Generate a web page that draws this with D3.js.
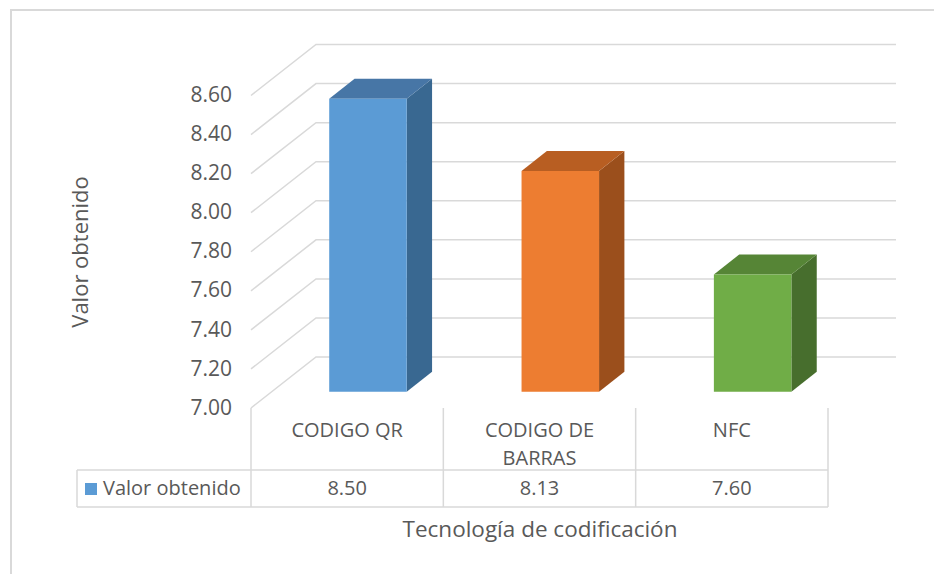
<!DOCTYPE html>
<html>
<head>
<meta charset="utf-8">
<script src="https://cdn.jsdelivr.net/npm/d3@7"></script>
<style>
  body { margin: 0; background: #fff; }
  text { font-family: "Open Sans", Lato, sans-serif; fill: #595959; }
</style>
</head>
<body>
<div class="chart3d"></div>
<script>
const categories = ["CODIGO QR", "CODIGO DE BARRAS", "NFC"];
const categoryLines = [["CODIGO QR"], ["CODIGO DE", "BARRAS"], ["NFC"]];
const values = [8.50, 8.13, 7.60];
const yTicks = [7.0, 7.2, 7.4, 7.6, 7.8, 8.0, 8.2, 8.4, 8.6];
const seriesName = "Valor obtenido";
const yTitle = "Valor obtenido";
const xTitle = "Tecnología de codificación";

const faceColors = [
    { front: "#5B9BD5", top: "#4776A6", side: "#396891" },
    { front: "#ED7D31", top: "#B85E22", side: "#9B4F1C" },
    { front: "#70AD47", top: "#568536", side: "#476E2D" },
];

const width = 934;
const height = 574;
const depth = { dx: 65, dy: -51 };   // full floor depth, oblique projection
const barZ = [0.32, 0.71];           // front / back of the columns along depth

const svg = d3.select(".chart3d")
    .append("svg")
    .attr("width", width)
    .attr("height", height);

// chart frame
svg.append("rect")
    .attr("x", 11).attr("y", 10)
    .attr("width", width).attr("height", height)
    .attr("fill", "none")
    .attr("stroke", "#D9D9D9")
    .attr("stroke-width", 2);

const xScale = d3.scaleBand()
    .domain(categories)
    .range([251, 828])
    .paddingInner(0);

const yScale = d3.scaleLinear()
    .domain([7.0, 8.6])
    .range([408, 95.5]);

const proj = (x, v, z) => [x + z * depth.dx, yScale(v) + z * depth.dy];
const x0 = xScale.range()[0];
const x1 = xScale.range()[1];

// gridlines: side wall diagonal + back wall horizontal
const grid = svg.append("g")
    .attr("stroke", "#D9D9D9")
    .attr("stroke-width", 1.5)
    .attr("fill", "none");

grid.selectAll("path")
    .data(yTicks)
    .enter()
    .append("path")
    .attr("d", d => {
        const a = proj(x0, d, 0);
        const b = proj(x0, d, 1);
        const c = proj(x1 + 3, d, 1);
        return `M${a}L${b}L${c}`;
    });

// tick labels
svg.append("g")
    .selectAll("text")
    .data(yTicks)
    .enter()
    .append("text")
    .attr("x", 232)
    .attr("y", d => yScale(d) + 1)
    .attr("text-anchor", "end")
    .attr("dominant-baseline", "middle")
    .attr("font-size", 21)
    .text(d => d3.format(".2f")(d));

// columns
const barW = xScale.bandwidth() * 0.403;
const bars = svg.append("g")
    .selectAll("g")
    .data(values.map((v, i) => ({ v, cat: categories[i], i })))
    .enter()
    .append("g");

const barLeft = d => xScale(d.cat) + xScale.bandwidth() / 2 - barW / 2;

bars.append("path")   // side
    .attr("fill", d => faceColors[d.i].side)
    .attr("d", d => {
        const xr = barLeft(d) + barW;
        return "M" + [proj(xr, 7, barZ[0]), proj(xr, 7, barZ[1]), proj(xr, d.v, barZ[1]), proj(xr, d.v, barZ[0])].join("L") + "Z";
    });

bars.append("path")   // top
    .attr("fill", d => faceColors[d.i].top)
    .attr("d", d => {
        const xl = barLeft(d), xr = xl + barW;
        return "M" + [proj(xl, d.v, barZ[0]), proj(xl, d.v, barZ[1]), proj(xr, d.v, barZ[1]), proj(xr, d.v, barZ[0])].join("L") + "Z";
    });

bars.append("path")   // front
    .attr("fill", d => faceColors[d.i].front)
    .attr("d", d => {
        const xl = barLeft(d), xr = xl + barW;
        return "M" + [proj(xl, 7, barZ[0]), proj(xl, d.v, barZ[0]), proj(xr, d.v, barZ[0]), proj(xr, 7, barZ[0])].join("L") + "Z";
    });

// data table
const tableTop = 470, tableBottom = 507, tableLeft = 77;
const table = svg.append("g")
    .attr("stroke", "#D9D9D9")
    .attr("stroke-width", 1.5);

[tableTop, tableBottom].forEach(y => {
    table.append("line")
        .attr("x1", tableLeft).attr("x2", x1)
        .attr("y1", y).attr("y2", y);
});
table.append("line")
    .attr("x1", tableLeft).attr("x2", tableLeft)
    .attr("y1", tableTop).attr("y2", tableBottom);

const colEdges = categories.map(c => xScale(c)).concat([x1]);
table.selectAll(".col")
    .data(colEdges)
    .enter()
    .append("line")
    .attr("class", "col")
    .attr("x1", d => d).attr("x2", d => d)
    .attr("y1", yScale(7)).attr("y2", tableBottom);

// category labels
svg.append("g")
    .selectAll("text")
    .data(categoryLines)
    .enter()
    .append("text")
    .attr("text-anchor", "middle")
    .attr("font-size", 20)
    .each(function (lines, i) {
        d3.select(this).selectAll("tspan")
            .data(lines)
            .enter()
            .append("tspan")
            .attr("x", xScale(categories[i]) + xScale.bandwidth() / 2)
            .attr("y", (d, j) => 437 + j * 28)
            .text(d => d);
    });

// values row
svg.append("g")
    .selectAll("text")
    .data(values)
    .enter()
    .append("text")
    .attr("x", (d, i) => xScale(categories[i]) + xScale.bandwidth() / 2)
    .attr("y", 495)
    .attr("text-anchor", "middle")
    .attr("font-size", 20)
    .text(d => d3.format(".2f")(d));

svg.append("rect")
    .attr("x", 85).attr("y", 483)
    .attr("width", 12).attr("height", 12)
    .attr("fill", faceColors[0].front);

svg.append("text")
    .attr("x", 103).attr("y", 495)
    .attr("font-size", 20)
    .text(seriesName);

// axis titles
svg.append("text")
    .attr("x", 540).attr("y", 537)
    .attr("text-anchor", "middle")
    .attr("font-size", 22.5)
    .text(xTitle);

svg.append("text")
    .attr("transform", "translate(88,252) rotate(-90)")
    .attr("text-anchor", "middle")
    .attr("font-size", 22)
    .text(yTitle);
</script>
</body>
</html>
